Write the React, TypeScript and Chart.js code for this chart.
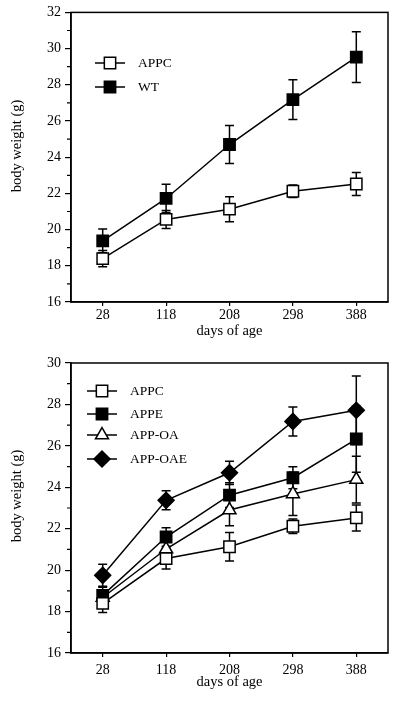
import React, { useEffect, useRef } from "react";
import { Chart, registerables } from "chart.js";
import { drawPoint } from "chart.js/helpers";

Chart.register(...registerables);

const days = ["28", "118", "208", "298", "388"];

const appc = [18.4, 20.56, 21.13, 22.12, 22.52];
const appcErr = [0.45, 0.5, 0.69, 0.35, 0.63];

const wt = [19.38, 21.72, 24.7, 27.18, 29.53];
const wtErr = [0.66, 0.78, 1.05, 1.1, 1.4];

const appe = [18.78, 21.6, 23.62, 24.46, 26.33];
const appeErr = [0.4, 0.45, 0.6, 0.53, 1.6];

const appOa = [18.68, 21.02, 22.9, 23.68, 24.37];
const appOaErr = [0.35, 0.4, 0.76, 1.04, 1.13];

const appOae = [19.75, 23.37, 24.7, 27.18, 27.72];
const appOaeErr = [0.53, 0.46, 0.56, 0.7, 1.65];

const topYTicks = { min: 16, max: 32 };
const bottomYTicks = { min: 16, max: 30 };

const FONT = "'Liberation Serif', 'Times New Roman', serif";

type SeriesDef = {
  label: string;
  data: number[];
  err: number[];
  style: string;
  filled: boolean;
  radius: number;
};

const topSeries: SeriesDef[] = [
  { label: "APPC", data: appc, err: appcErr, style: "rect", filled: false, radius: 8 },
  { label: "WT", data: wt, err: wtErr, style: "rect", filled: true, radius: 8 },
];

const bottomSeries: SeriesDef[] = [
  { label: "APPC", data: appc, err: appcErr, style: "rect", filled: false, radius: 8 },
  { label: "APPE", data: appe, err: appeErr, style: "rect", filled: true, radius: 8 },
  { label: "APP-OA", data: appOa, err: appOaErr, style: "triangle", filled: false, radius: 7.5 },
  { label: "APP-OAE", data: appOae, err: appOaeErr, style: "rectRot", filled: true, radius: 8 },
];

type Cfg = {
  series: SeriesDef[];
  yMin: number;
  yMax: number;
  height: number;
  padTop: number;
  padBottom: number;
  xTickPad: number;
  yTitleY: number;
  legendX: number;
  legendTextX: number;
  legendYs: number[];
};

function ChartPanel({ cfg }: { cfg: Cfg }) {
  const ref = useRef<HTMLCanvasElement | null>(null);
  useEffect(() => {
    if (!ref.current) return;
    const errPlugin = {
      id: "errbars",
      beforeDatasetsDraw(chart: any) {
        const ctx = chart.ctx;
        const ys = chart.scales.y;
        ctx.save();
        ctx.strokeStyle = "#000";
        ctx.lineWidth = 1.5;
        chart.data.datasets.forEach((ds: any, i: number) => {
          const meta = chart.getDatasetMeta(i);
          meta.data.forEach((el: any, j: number) => {
            const v = ds.data[j];
            const e = ds.errs[j];
            const yt = ys.getPixelForValue(v + e);
            const yb = ys.getPixelForValue(v - e);
            const x = el.x;
            ctx.beginPath();
            ctx.moveTo(x, yt);
            ctx.lineTo(x, yb);
            ctx.moveTo(x - 4.5, yt);
            ctx.lineTo(x + 4.5, yt);
            ctx.moveTo(x - 4.5, yb);
            ctx.lineTo(x + 4.5, yb);
            ctx.stroke();
          });
        });
        ctx.restore();
      },
      afterDraw(chart: any) {
        const ctx = chart.ctx;
        const a = chart.chartArea;
        const ys = chart.scales.y;
        ctx.save();
        ctx.strokeStyle = "#000";
        ctx.lineWidth = 1.5;
        ctx.strokeRect(a.left, a.top, a.right - a.left, a.bottom - a.top);
        ctx.beginPath();
        for (let v = cfg.yMin + 1; v < cfg.yMax; v += 2) {
          const y = ys.getPixelForValue(v);
          ctx.moveTo(a.left - 4, y);
          ctx.lineTo(a.left, y);
        }
        ctx.lineWidth = 1.2;
        ctx.stroke();
        ctx.fillStyle = "#000";
        ctx.font = `14.5px ${FONT}`;
        ctx.textAlign = "center";
        ctx.textBaseline = "middle";
        ctx.translate(17, cfg.yTitleY);
        ctx.rotate(-Math.PI / 2);
        ctx.fillText("body weight (g)", 0, 0);
        ctx.restore();
        ctx.save();
        cfg.series.forEach((s, i) => {
          const y = cfg.legendYs[i];
          ctx.strokeStyle = "#000";
          ctx.lineWidth = 1.5;
          ctx.beginPath();
          ctx.moveTo(cfg.legendX - 15, y);
          ctx.lineTo(cfg.legendX + 15, y);
          ctx.stroke();
          ctx.fillStyle = s.filled ? "#000" : "#fff";
          drawPoint(ctx, { pointStyle: s.style, radius: s.radius, rotation: 0, borderWidth: 1.5 } as any, cfg.legendX, y);
          ctx.fillStyle = "#000";
          ctx.font = `13.5px ${FONT}`;
          ctx.textAlign = "left";
          ctx.textBaseline = "middle";
          ctx.fillText(s.label, cfg.legendTextX, y);
        });
        ctx.restore();
      },
    };

    const chart = new Chart(ref.current, {
      type: "line",
      data: {
        labels: days,
        datasets: cfg.series.map((s) => ({
          label: s.label,
          data: s.data,
          errs: s.err,
          borderColor: "#000",
          borderWidth: 1.5,
          backgroundColor: s.filled ? "#000" : "#fff",
          pointBackgroundColor: s.filled ? "#000" : "#fff",
          pointBorderColor: "#000",
          pointBorderWidth: 1.5,
          pointStyle: s.style,
          pointRadius: s.radius,
          tension: 0,
          fill: false,
        })) as any,
      },
      options: {
        responsive: false,
        animation: false,
        events: [],
        layout: { padding: { top: cfg.padTop, right: 12, bottom: cfg.padBottom, left: 0 } },
        plugins: { legend: { display: false }, tooltip: { enabled: false } },
        scales: {
          x: {
            type: "category",
            offset: true,
            grid: { display: true, drawOnChartArea: false, drawTicks: true, tickLength: 4, color: "#000", lineWidth: 1.2, offset: false },
            border: { display: true, color: "#000", width: 1.5 },
            ticks: { color: "#000", font: { family: FONT, size: 14 }, padding: cfg.xTickPad, maxRotation: 0, autoSkip: false },
            title: { display: true, text: "days of age", color: "#000", font: { family: FONT, size: 14.5 }, padding: { top: 0, bottom: 0 } },
            afterFit: (s: any) => {
              s.height = 38;
            },
          },
          y: {
            type: "linear",
            min: cfg.yMin,
            max: cfg.yMax,
            grid: { display: true, drawOnChartArea: false, drawTicks: true, tickLength: 6, color: "#000", lineWidth: 1.2 },
            border: { display: true, color: "#000", width: 1.5 },
            ticks: { stepSize: 2, color: "#000", font: { family: FONT, size: 14 }, padding: 4 },
            afterFit: (s: any) => {
              s.width = 71;
            },
          },
        },
      } as any,
      plugins: [errPlugin],
    });
    return () => chart.destroy();
  }, [cfg]);
  return <canvas ref={ref} width={400} height={cfg.height} style={{ display: "block", width: 400, height: cfg.height }} />;
}

const topCfg: Cfg = {
  series: topSeries,
  yMin: topYTicks.min,
  yMax: topYTicks.max,
  height: 340,
  padTop: 11,
  padBottom: 0,
  xTickPad: 1,
  yTitleY: 146,
  legendX: 110,
  legendTextX: 138,
  legendYs: [63, 87],
};

const bottomCfg: Cfg = {
  series: bottomSeries,
  yMin: bottomYTicks.min,
  yMax: bottomYTicks.max,
  height: 361,
  padTop: 23,
  padBottom: 10,
  xTickPad: 5,
  yTitleY: 156,
  legendX: 102,
  legendTextX: 130,
  legendYs: [51, 74, 95, 119],
};

export default function App() {
  return (
    <div style={{ position: "fixed", left: 0, top: 0, width: 400, height: 701, background: "#fff" }}>
      <ChartPanel cfg={topCfg} />
      <ChartPanel cfg={bottomCfg} />
    </div>
  );
}
